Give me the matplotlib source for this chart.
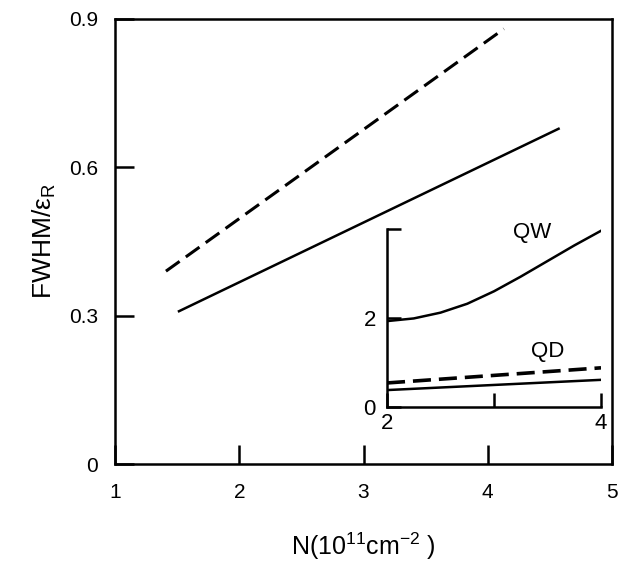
import matplotlib.pyplot as plt

plt.rcParams['font.family'] = ['Liberation Sans', 'DejaVu Sans']
plt.rcParams['mathtext.fontset'] = 'custom'
plt.rcParams['mathtext.rm'] = 'Liberation Sans'
plt.rcParams['mathtext.it'] = 'Liberation Sans:italic'

# main panel: FWHM vs density
n_dash = [1.41, 4.13]
fwhm_dash = [0.39, 0.88]
n_solid = [1.515, 4.57]
fwhm_solid = [0.309, 0.678]

# inset: QW and QD curves
n_qw = [2.0, 2.25, 2.5, 2.75, 3.0, 3.25, 3.5, 3.75, 4.0]
qw = [1.93, 1.99, 2.12, 2.32, 2.6, 2.93, 3.28, 3.63, 3.96]
n_qd = [2.0, 4.0]
qd_dash = [0.54, 0.88]
qd_solid = [0.38, 0.61]

fig = plt.figure(figsize=(6.21, 5.79), dpi=100)
ax = fig.add_axes([0.1852, 0.1986, 0.8003, 0.7686])

ax.plot(n_dash, fwhm_dash, color='black', lw=2.2, dashes=(5.5, 2.5))
ax.plot(n_solid, fwhm_solid, color='black', lw=1.8)

ax.set_xlim(1, 5)
ax.set_ylim(0, 0.9)
ax.set_xticks([1, 2, 3, 4, 5])
ax.set_yticks([0, 0.3, 0.6, 0.9])
ax.set_yticklabels(['0', '0.3', '0.6', '0.9'])
ax.tick_params(direction='in', length=14, width=1.8, labelsize=15)
ax.tick_params(axis='x', pad=14)
ax.tick_params(axis='y', pad=12)
for s in ax.spines.values():
    s.set_linewidth(1.8)

ax.set_xlabel('N(10$^{11}$cm$^{-2}$ )', fontsize=18, labelpad=20)
ax.set_ylabel('FWHM/ε$_{\\mathrm{R}}$', fontsize=19, labelpad=8)

# inset
ins = fig.add_axes([0.6232, 0.2971, 0.3446, 0.3074])
ins.patch.set_alpha(0)
ins.plot(n_qw, qw, color='black', lw=1.8)
ins.plot(n_qd, qd_dash, color='black', lw=2.6, dashes=(5, 2.2))
ins.plot(n_qd, qd_solid, color='black', lw=1.8)
ins.text(3.36, 3.91, 'QW', fontsize=16, ha='center', va='center')
ins.text(3.5, 1.24, 'QD', fontsize=16, ha='center', va='center')

ins.set_xlim(2, 4)
ins.set_ylim(0, 4)
ins.set_xticks([2, 3, 4])
ins.set_xticklabels(['2', '', '4'])
ins.set_yticks([0, 2, 4])
ins.set_yticklabels(['0', '2', ''])
ins.spines['top'].set_visible(False)
ins.spines['right'].set_visible(False)
for s in ins.spines.values():
    s.set_linewidth(1.8)
ins.tick_params(direction='in', length=10, width=1.8, labelsize=16)
ins.tick_params(axis='x', pad=4)
ins.tick_params(axis='y', pad=8)

fig.savefig('out.png', dpi=100)
